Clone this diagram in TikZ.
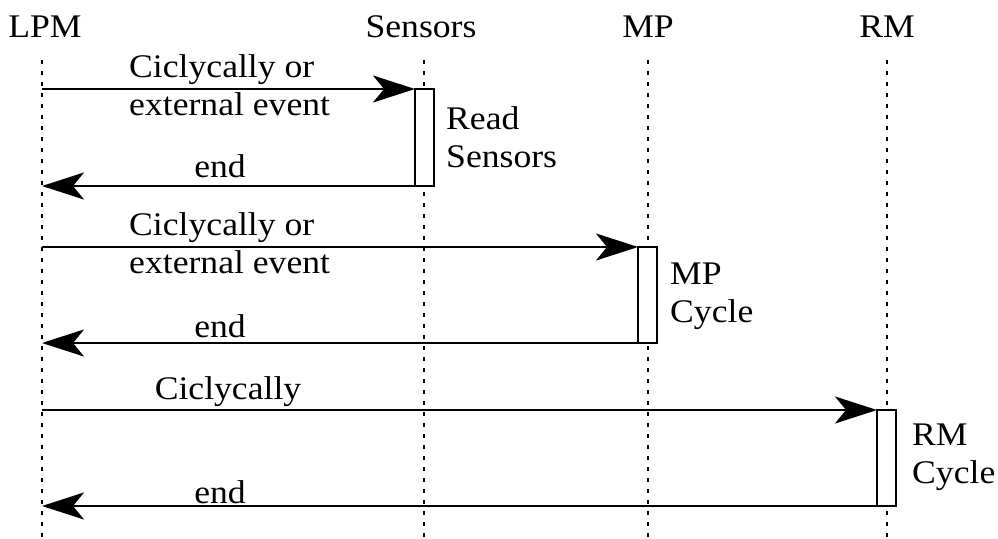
\documentclass[tikz,border=0pt]{standalone}
\usepackage{fontspec}
\setmainfont[FakeStretch=1.08]{Liberation Serif}
\usetikzlibrary{arrows.meta}
\tikzset{
  lbl/.style={font=\fontsize{33}{38}\selectfont, inner sep=0pt},
  head/.style={lbl, anchor=base},
  lifeline/.style={line width=2pt, dash pattern=on 4pt off 7pt},
  activity/.style={draw, line width=2.4pt, minimum width=19pt, inner sep=0pt, outer sep=0pt},
  msg/.style={line width=2.4pt, -{Stealth[length=42pt,width=27pt,inset=11pt]}},
}
\begin{document}
\begin{tikzpicture}[x=1pt,y=-1pt]
\useasboundingbox (0,0) rectangle (998,538);
% participants
\node[head] (hLPM) at (45,37) {LPM};
\node[head] (hSen) at (421,37) {Sensors};
\node[head] (hMP)  at (648,37) {MP};
\node[head] (hRM)  at (887,37) {RM};
% lifelines
\coordinate (tLPM) at (42,60);  \coordinate (bLPM) at (42,538);
\coordinate (tSen) at (424,60); \coordinate (bSen) at (424,538);
\coordinate (tMP)  at (648,60); \coordinate (bMP)  at (648,538);
\coordinate (tRM)  at (887,60); \coordinate (bRM)  at (887,538);
\draw[lifeline] (tLPM) -- (bLPM);
\draw[lifeline] (tSen) -- (bSen);
\draw[lifeline] (tMP) -- (bMP);
\draw[lifeline] (tRM) -- (bRM);
% activation boxes
\node[activity, fill=white, minimum height=97pt] (aSen) at (424.5,137.5) {};
\node[activity, fill=white, minimum height=96pt] (aMP)  at (647.5,295) {};
\node[activity, fill=white, minimum height=96pt] (aRM)  at (886.5,458) {};
% points on LPM lifeline
\coordinate (s1) at (42,89);  \coordinate (e1) at (42,186);
\coordinate (s2) at (42,247); \coordinate (e2) at (42,343);
\coordinate (s3) at (42,410); \coordinate (e3) at (42,506);
% messages
\draw[msg] (s1) -- (s1 -| aSen.west);
\draw[msg] (e1 -| aSen.west) -- (e1);
\draw[msg] (s2) -- (s2 -| aMP.west);
\draw[msg] (e2 -| aMP.west) -- (e2);
\draw[msg] (s3) -- (s3 -| aRM.west);
\draw[msg] (e3 -| aRM.west) -- (e3);
% message labels (base = baseline of the last line)
\node[lbl, align=left, anchor=base west] (m1) at (129,115) {Ciclycally or\\external event};
\node[lbl, anchor=base] (r1) at (220,177) {end};
\node[lbl, align=left, anchor=base west] (m2) at (129,273) {Ciclycally or\\external event};
\node[lbl, anchor=base] (r2) at (220,337) {end};
\node[lbl, anchor=base] (m3) at (228,399) {Ciclycally};
\node[lbl, anchor=base] (r3) at (220,503) {end};
% activity labels
\node[lbl, align=left, anchor=base west] (n1) at (446,167) {Read\\Sensors};
\node[lbl, align=left, anchor=base west] (n2) at (670,322) {MP\\Cycle};
\node[lbl, align=left, anchor=base west] (n3) at (912,483) {RM\\Cycle};
\end{tikzpicture}
\end{document}
